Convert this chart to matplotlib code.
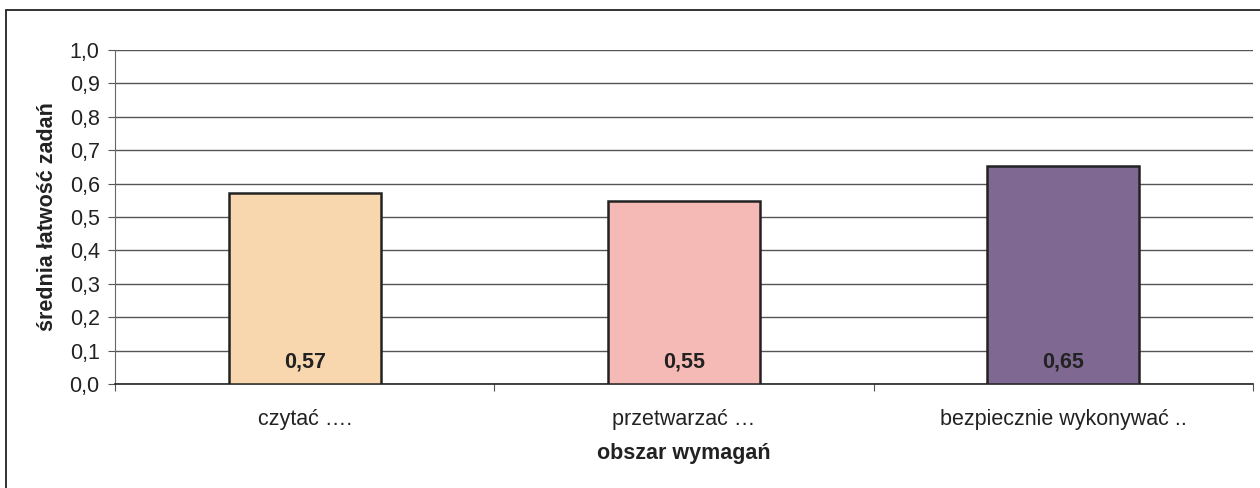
#!/usr/bin/env python3
"""Bar chart: mean task easiness per requirement area."""
import matplotlib
matplotlib.use("Agg")
import matplotlib.pyplot as plt
from matplotlib.patches import Rectangle
from matplotlib.ticker import FuncFormatter

CATEGORIES = ["czytać ….", "przetwarzać …", "bezpiecznie wykonywać .."]
VALUES = [0.572, 0.548, 0.654]
LABELS = ["0,57", "0,55", "0,65"]
COLORS = ["#F9D7AE", "#F5BAB6", "#7F6891"]
YTICKS = [0.0, 0.1, 0.2, 0.3, 0.4, 0.5, 0.6, 0.7, 0.8, 0.9, 1.0]

plt.rcParams["font.family"] = ["Liberation Sans", "DejaVu Sans"]
FS = 15.5

W, H = 1260, 488
fig = plt.figure(figsize=(W / 100, H / 100), dpi=100)

# outer frame around the whole chart area
fig.patches.append(Rectangle((6 / W, -0.01), 1.1, 1 - 10 / H + 0.01,
                             transform=fig.transFigure, fill=False,
                             edgecolor="#222222", linewidth=1.3))

ax = fig.add_axes([115 / W, 1 - 384 / H, (1253 - 115) / W, (384 - 50) / H])

xs = list(range(len(CATEGORIES)))
ax.bar(xs, VALUES, width=0.4, color=COLORS, edgecolor="#222222",
       linewidth=1.8, zorder=3)

for x, lab in zip(xs, LABELS):
    ax.text(x, 0.067, lab, ha="center", va="center", fontsize=FS,
            fontweight="bold", color="#222222", zorder=4)

ax.set_xlim(-0.5, len(CATEGORIES) - 0.5)
ax.set_ylim(0, 1.0)
ax.set_yticks(YTICKS)
ax.yaxis.set_major_formatter(FuncFormatter(lambda v, p: f"{v:.1f}".replace(".", ",")))
ax.grid(axis="y", color="#555555", linewidth=1.0, zorder=0)

# category ticks sit at the boundaries, labels at the centers
ax.set_xticks([i - 0.5 for i in range(len(CATEGORIES) + 1)])
ax.set_xticklabels([])
ax.set_xticks(xs, minor=True)
ax.set_xticklabels(CATEGORIES, minor=True, fontsize=FS, color="#222222")
ax.tick_params(axis="x", which="minor", length=0, pad=18)
ax.tick_params(axis="x", which="major", length=5, direction="out", color="#555555")
ax.tick_params(axis="y", length=5, direction="out", color="#555555",
               labelsize=FS, labelcolor="#222222", pad=6)

for s in ["top", "right"]:
    ax.spines[s].set_visible(False)
ax.spines["left"].set_color("#666666")
ax.spines["bottom"].set_color("#222222")
ax.spines["bottom"].set_linewidth(1.2)

ax.set_ylabel("średnia łatwość zadań", fontsize=FS, fontweight="bold",
              color="#222222", labelpad=8)
ax.set_xlabel("obszar wymagań", fontsize=FS, fontweight="bold",
              color="#222222", labelpad=9)

fig.savefig("out.png", dpi=100)
